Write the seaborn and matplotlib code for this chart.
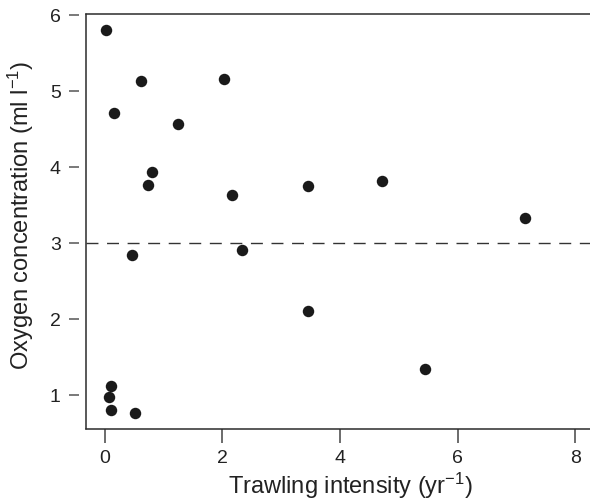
import pandas as pd
import matplotlib.pyplot as plt
import seaborn as sns

# Values
trawling = [0.03, 0.16, 0.61, 2.02, 1.24, 0.81, 0.74, 2.16, 2.34, 3.46,
            4.72, 7.14, 0.46, 0.11, 0.07, 0.11, 0.51, 3.46, 5.44]
oxygen = [5.81, 4.72, 5.14, 5.16, 4.57, 3.94, 3.77, 3.63, 2.91, 3.75,
          3.82, 3.33, 2.85, 1.12, 0.97, 0.80, 0.76, 2.11, 1.34]
threshold = 3

df = pd.DataFrame({'Trawling': trawling, 'Oxygen': oxygen})

sns.set_style('ticks')
plt.rcParams['font.family'] = ['Liberation Sans', 'DejaVu Sans']
plt.rcParams['mathtext.fontset'] = 'custom'
plt.rcParams['mathtext.rm'] = 'Liberation Sans'
plt.rcParams['mathtext.it'] = 'Liberation Sans'

fig = plt.figure(figsize=(5.9, 5.03), dpi=100)
ax = fig.add_axes([0.1458, 0.1471, 0.8542, 0.8245])

sns.scatterplot(data=df, x='Trawling', y='Oxygen', ax=ax, color='#1a1a1a',
                s=68, linewidth=0, zorder=3)

# dashed threshold line
ax.axhline(threshold, color='#333333', linestyle=(0, (8.6, 6.2)), linewidth=1.0)

ax.set_xlim(-0.318, 8.25)
ax.set_ylim(0.553, 6.015)
ax.set_xticks([0, 2, 4, 6, 8])
ax.set_yticks([1, 2, 3, 4, 5, 6])

line_col = '#2b2b2b'
for side in ['top', 'bottom', 'left']:
    ax.spines[side].set_linewidth(1.1)
    ax.spines[side].set_color(line_col)
ax.spines['right'].set_visible(False)
# y ticks sit a little away from the box edge
ax.spines['left'].set_position(('outward', 5))
ax.spines['left'].set_visible(False)
ax.plot([0, 0], [0, 1], transform=ax.transAxes, color=line_col,
        linewidth=1.1, clip_on=False)

ax.tick_params(axis='y', direction='out', length=7.2, width=1.1,
               color='#555555', pad=6, labelsize=14, labelcolor='#222222')
ax.tick_params(axis='x', direction='out', length=10, width=1.1,
               color='#444444', pad=5, labelsize=14, labelcolor='#222222')

ax.set_xlabel(r'Trawling intensity (yr$^{\mathrm{-1}}$)', fontsize=17,
              color='#222222')
ax.set_ylabel(r'Oxygen concentration (ml l$^{\mathrm{-1}}$)', fontsize=17,
              color='#222222')
ax.xaxis.set_label_coords(0.524, -0.10)
ax.yaxis.set_label_coords(-0.10, 0.515)

plt.savefig('out.png', dpi=100)
